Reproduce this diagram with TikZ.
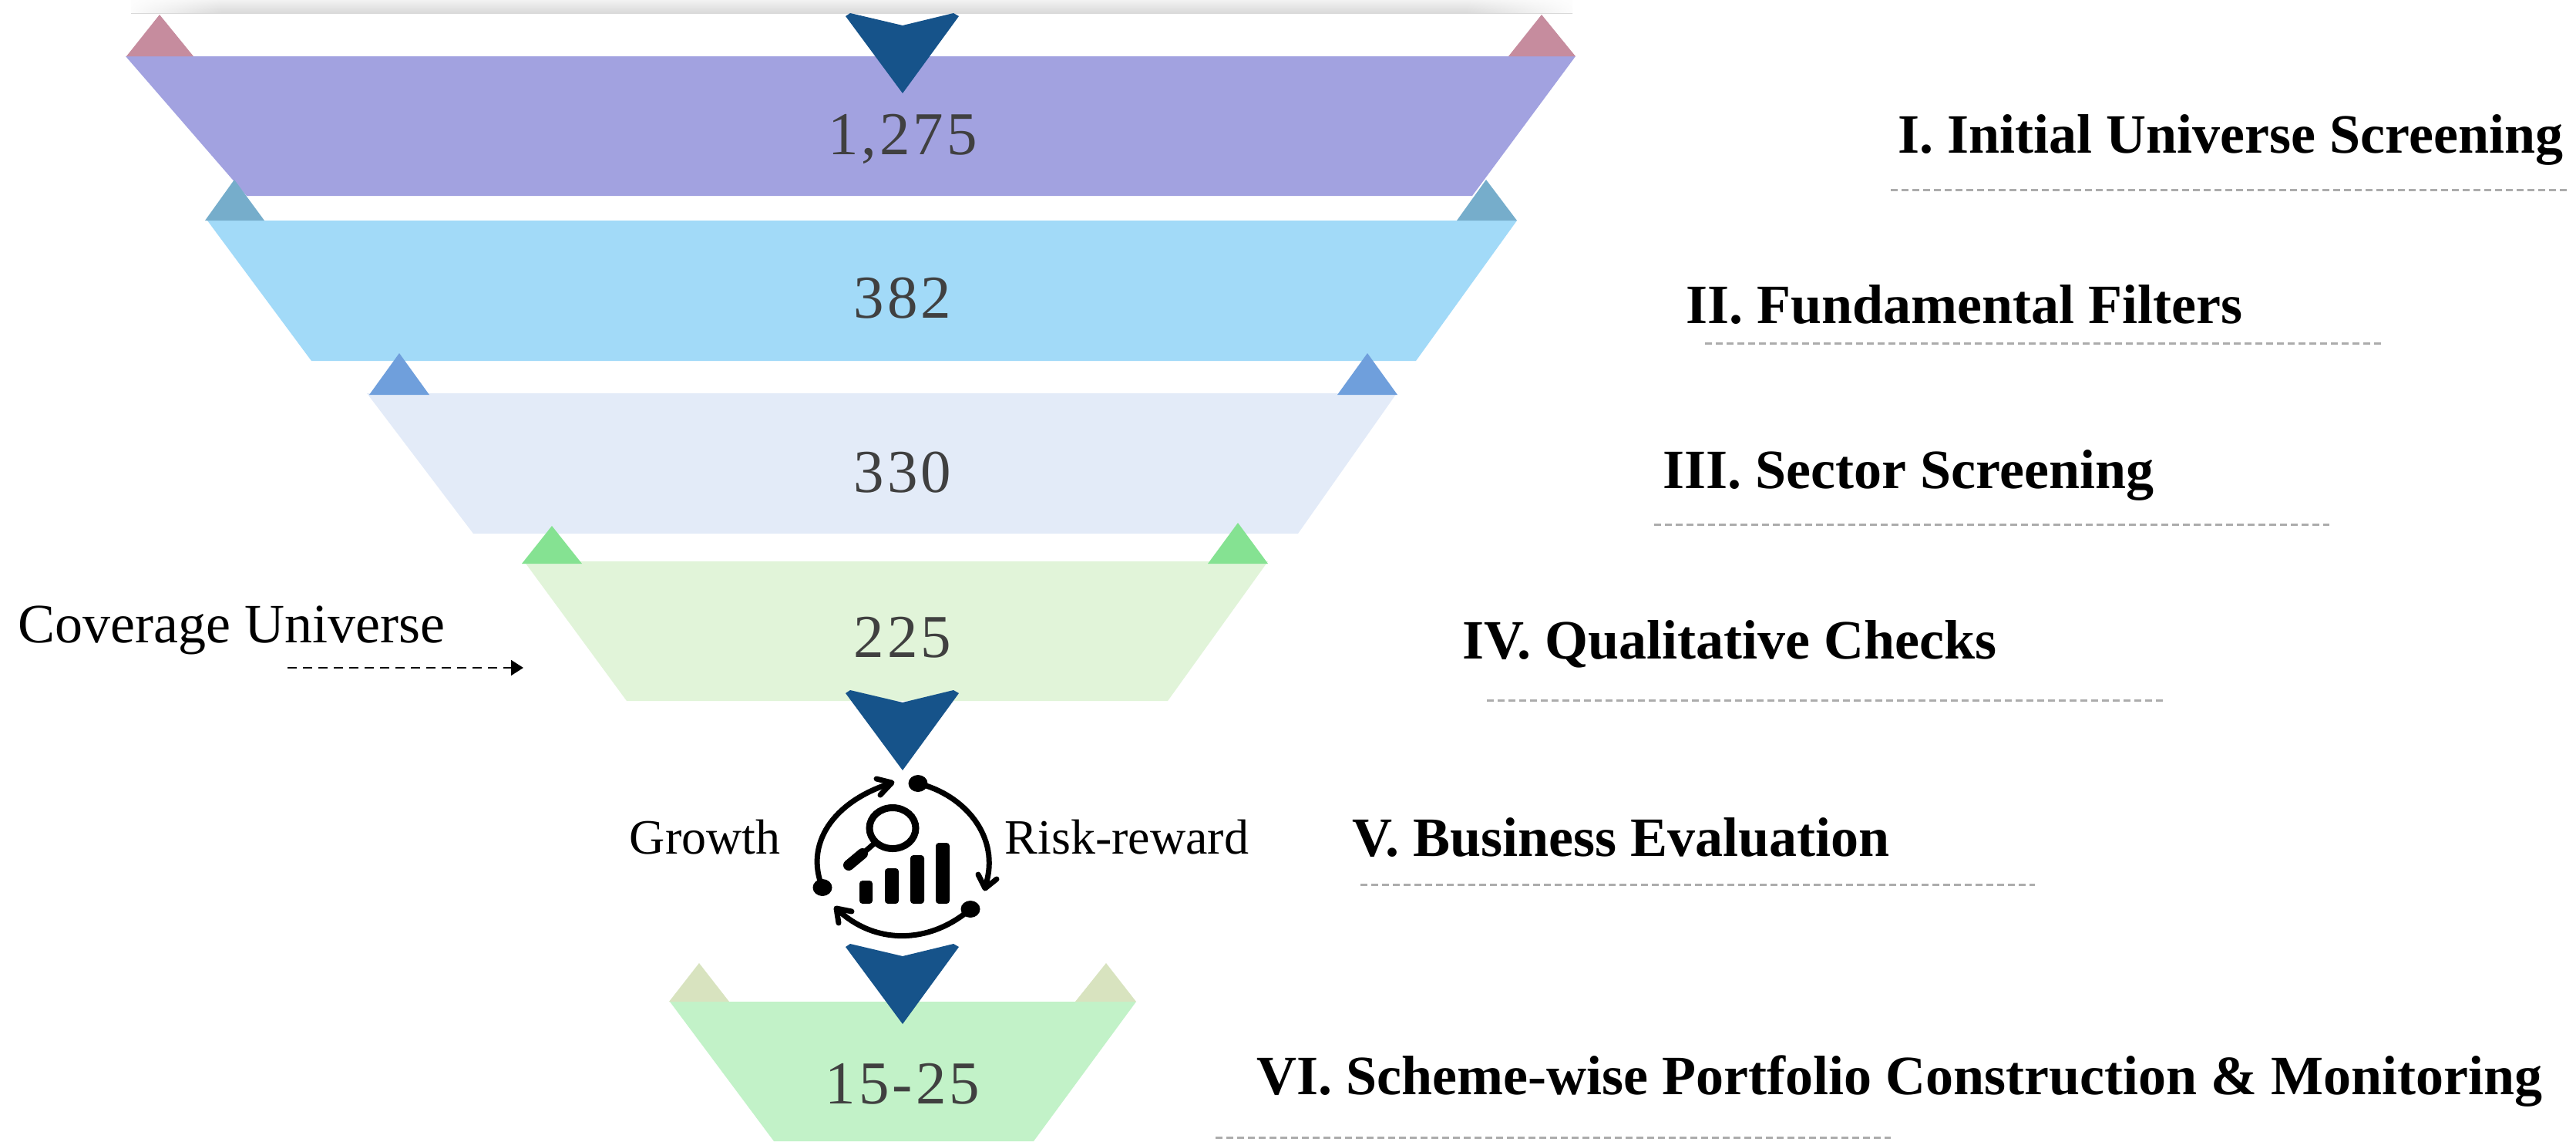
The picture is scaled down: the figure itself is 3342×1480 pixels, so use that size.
\documentclass[tikz,border=0pt]{standalone}
\usepackage{fontspec}
\setmainfont{Liberation Serif}
\newfontfamily\numfont[LetterSpace=5]{Liberation Serif}
\newfontfamily\stagefont[BoldFont={Liberation Serif Bold}]{Liberation Serif}
\usetikzlibrary{arrows.meta,fadings}

\definecolor{bandA}{HTML}{A2A2E0}
\definecolor{bandB}{HTML}{A2DAF8}
\definecolor{bandC}{HTML}{E3EBF8}
\definecolor{bandD}{HTML}{E1F4D9}
\definecolor{bandF}{HTML}{C2F2C8}
\definecolor{tipA}{HTML}{C68C9E}
\definecolor{tipB}{HTML}{76ADCB}
\definecolor{tipC}{HTML}{6F9FDC}
\definecolor{tipD}{HTML}{85E292}
\definecolor{tipF}{HTML}{D8E3BF}
\definecolor{pointer}{HTML}{16538A}
\definecolor{numgray}{HTML}{404040}

\tikzset{
    numlabel/.style={anchor=base, text=numgray, inner sep=0pt, font=\fontsize{19.75}{24}\numfont},
    stagelabel/.style={anchor=base west, inner sep=0pt, font=\fontsize{18}{22}\stagefont\bfseries},
    sidelabel/.style={anchor=base west, inner sep=0pt, font=\fontsize{18}{22}\selectfont},
    iconlabel/.style={anchor=base west, inner sep=0pt, font=\fontsize{16}{20}\selectfont},
    stagerule/.style={draw=gray!65, line width=.75pt, dash pattern=on 2.25pt off 1.25pt},
    iconline/.style={line width=1.75pt, line cap=round, line join=round},
}

\begin{document}
\begin{tikzpicture}[x=.25pt, y=-.25pt]
    \useasboundingbox (0,0) rectangle (3342,1480);

    % shadow along the top edge
    \shade[top color=black!5, bottom color=black!15] (170,0) rectangle (2040,17);
    \fill[white, path fading=east] (160,0) rectangle (290,17);
    \fill[white, path fading=west] (1900,0) rectangle (2050,17);

    % funnel bands
    \fill[bandA] (163,73) -- (2044,73) -- (1910,254) -- (320,254) -- cycle;
    \fill[bandB] (269,286) -- (1968,286) -- (1837,468) -- (404,468) -- cycle;
    \fill[bandC] (476,510) -- (1812,510) -- (1684,692) -- (614,692) -- cycle;
    \fill[bandD] (680,728) -- (1645,728) -- (1515,909) -- (813,909) -- cycle;
    \fill[bandF] (869,1299) -- (1474,1299) -- (1341,1480) -- (1004,1480) -- cycle;

    % small triangles on the corners
    \fill[tipA] (164,73) -- (207,19) -- (251,73) -- cycle;
    \fill[tipA] (1957,73) -- (2000,19) -- (2044,73) -- cycle;
    \fill[tipB] (266,286) -- (304,233) -- (343,286) -- cycle;
    \fill[tipB] (1890,286) -- (1928,233) -- (1968,286) -- cycle;
    \fill[tipC] (479,512) -- (518,458) -- (557,512) -- cycle;
    \fill[tipC] (1735,512) -- (1774,458) -- (1813,512) -- cycle;
    \fill[tipD] (677,731) -- (716,682) -- (755,731) -- cycle;
    \fill[tipD] (1567,731) -- (1606,678) -- (1645,731) -- cycle;
    \fill[tipF] (868,1299) -- (907,1249) -- (946,1299) -- cycle;
    \fill[tipF] (1395,1299) -- (1435,1249) -- (1474,1299) -- cycle;

    % pointers
    \foreach \py in {0,878,1207} {
        \fill[pointer] (1097,21+\py) -- (1103,17+\py) -- (1171,33+\py) -- (1237,17+\py)
            -- (1244,21+\py) -- (1171,121+\py) -- cycle;
    }

    % numbers
    \node (nA) [numlabel] at (1171,200) {1,275};
    \node (nB) [numlabel] at (1171,412) {382};
    \node (nC) [numlabel] at (1171,638) {330};
    \node (nD) [numlabel] at (1171,852) {225};
    \node (nF) [numlabel] at (1171,1431) {15-25};

    % stages on the right
    \node (stageA) [stagelabel] at (2462,198) {I. Initial Universe Screening};
    \node (stageB) [stagelabel] at (2187,419) {II. Fundamental Filters};
    \node (stageC) [stagelabel] at (2157,633) {III. Sector Screening};
    \node (stageD) [stagelabel] at (1897,854) {IV. Qualitative Checks};
    \node (stageE) [stagelabel] at (1754,1110) {V. Business Evaluation};
    \node (stageF) [stagelabel] at (1630,1419) {VI. Scheme-wise Portfolio Construction \& Monitoring};

    \draw[stagerule] (2453,246) -- (3330,246);
    \draw[stagerule] (2212,445) -- (3090,445);
    \draw[stagerule] (2146,680) -- (3022,680);
    \draw[stagerule] (1929,908) -- (2807,908);
    \draw[stagerule] (1765,1147) -- (2640,1147);
    \draw[stagerule] (1577,1475) -- (2453,1475);

    % coverage universe
    \node (cover) [sidelabel] at (23,833) {Coverage Universe};
    \coordinate (coverstart) at (373,866);
    \coordinate (coverend) at (679,866);
    \draw[densely dashed, line width=.5pt, -{Triangle[length=4pt, width=5pt]}] (coverstart) -- (coverend);

    \node (growth) [iconlabel] at (816,1107) {Growth};
    \node (risk) [iconlabel] at (1303,1107) {Risk-reward};

    % icon: ring of arrows
    \draw[iconline] (1067,1151) .. controls (1044,1095) and (1080,1040) .. (1155,1016);
    \draw[iconline] (1137,1010) -- (1157,1015) -- (1142,1031);
    \fill (1067,1151) ellipse (12.5 and 11);
    \draw[iconline] (1191,1016) .. controls (1250,1030) and (1300,1085) .. (1278,1150);
    \draw[iconline] (1269,1134) -- (1278,1152) -- (1293,1140);
    \fill (1191,1016) ellipse (12.5 and 11);
    \draw[iconline] (1259,1179) .. controls (1205,1225) and (1135,1225) .. (1087,1180);
    \draw[iconline] (1105,1182) -- (1085,1178) -- (1088,1197);
    \fill (1259,1179) ellipse (12.5 and 11);

    % icon: magnifier and bars
    \draw[line width=2.25pt] (1158,1074) ellipse (30 and 26.5);
    \draw[line width=1.75pt] (1134,1094) -- (1118,1108);
    \draw[line width=3.5pt, line cap=round] (1119,1107) -- (1101,1122);
    \fill[rounded corners=1pt] (1115,1142) rectangle (1132,1172);
    \fill[rounded corners=1pt] (1148,1126) rectangle (1166,1172);
    \fill[rounded corners=1pt] (1181,1109) rectangle (1199,1172);
    \fill[rounded corners=1pt] (1214,1093) rectangle (1232,1172);
\end{tikzpicture}
\end{document}
